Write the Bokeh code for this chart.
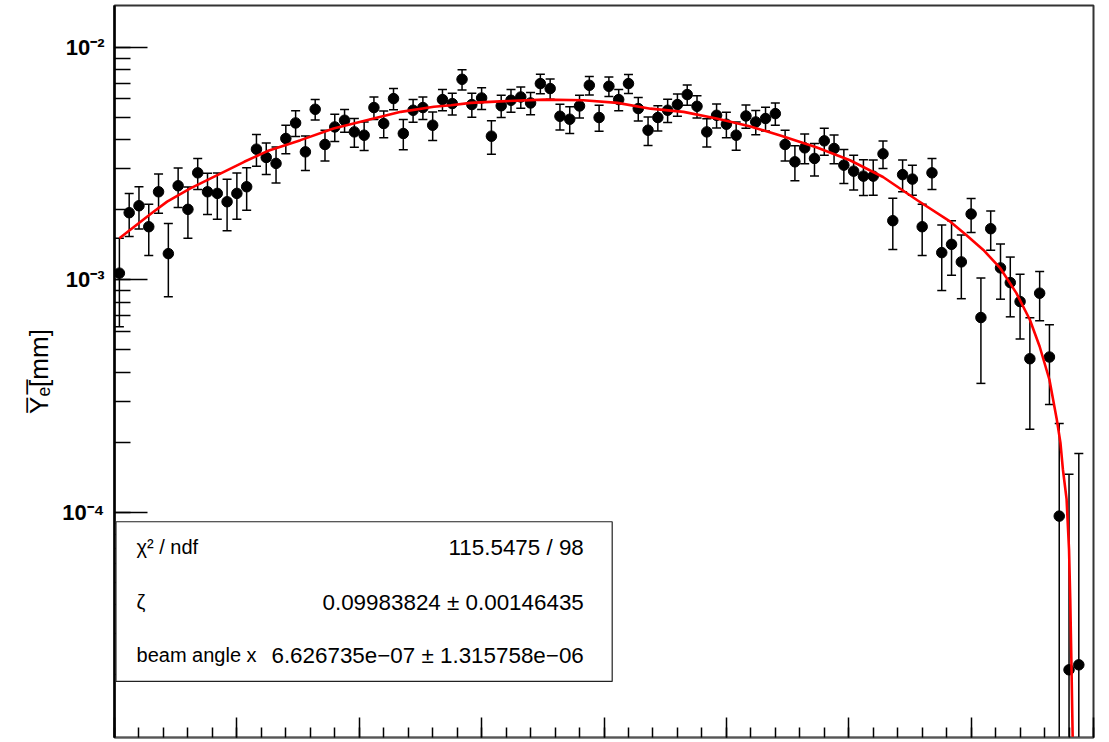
import numpy as np
from bokeh.plotting import figure
from bokeh.models import (Range1d, LogTicker, SingleIntervalTicker, CustomJSTickFormatter,
                          ColumnDataSource, CustomLabelingPolicy)
from bokeh.core.properties import value
from bokeh.embed import file_html
from bokeh.resources import INLINE

# bin centres (x, arbitrary units; axis 0..8 without labels)
bin_x = [0.04, 0.12, 0.20, 0.28, 0.36, 0.44, 0.52, 0.60, 0.68, 0.76,
         0.84, 0.92, 1.00, 1.08, 1.16, 1.24, 1.32, 1.40, 1.48, 1.56,
         1.64, 1.72, 1.80, 1.88, 1.96, 2.04, 2.12, 2.20, 2.28, 2.36,
         2.44, 2.52, 2.60, 2.68, 2.76, 2.84, 2.92, 3.00, 3.08, 3.16,
         3.24, 3.32, 3.40, 3.48, 3.56, 3.64, 3.72, 3.80, 3.88, 3.96,
         4.04, 4.12, 4.20, 4.28, 4.36, 4.44, 4.52, 4.60, 4.68, 4.76,
         4.84, 4.92, 5.00, 5.08, 5.16, 5.24, 5.32, 5.40, 5.48, 5.56,
         5.64, 5.72, 5.80, 5.88, 5.96, 6.04, 6.12, 6.20, 6.28, 6.36,
         6.44, 6.52, 6.60, 6.68, 6.76, 6.84, 6.92, 7.00, 7.08, 7.16,
         7.24, 7.32, 7.40, 7.48, 7.56, 7.64, 7.72, 7.80, 7.88]

# measured mean Y_e (units of 1e-3 mm)
y_val_e3 = [1.069, 1.945, 2.084, 1.693, 2.393, 1.297, 2.540, 2.011, 2.887, 2.393,
            2.355, 2.168, 2.355, 2.515, 3.649, 3.362, 3.170, 4.057, 4.732, 3.553,
            5.418, 3.824, 4.548, 4.859, 4.330, 4.191, 5.510, 4.705, 6.022, 4.262,
            5.365, 5.510, 4.626, 5.963, 5.733, 7.290, 5.676, 6.058, 4.150, 5.609,
            5.922, 6.118, 5.767, 6.986, 6.649, 5.055, 4.909, 5.598, 6.870, 4.993,
            6.802, 5.963, 6.986, 5.456, 4.403, 4.993, 5.365, 5.676, 6.266, 5.580,
            4.330, 5.104, 4.672, 4.191, 5.069, 4.778, 4.943, 5.190, 3.824, 3.220,
            3.697, 3.329, 3.962, 3.675, 3.115, 2.935, 2.794, 2.794, 3.484, 1.797,
            2.836, 2.713, 1.693, 2.887, 1.310, 1.422, 1.195, 1.920, 0.6888, 1.660,
            1.126, 0.9736, 0.8069, 0.4581, 0.8767, 0.4659, 0.0964, 0.02104, 0.02211]

# statistical errors (units of 1e-3 mm)
y_err_e3 = [0.44, 0.41, 0.43, 0.42, 0.46, 0.45, 0.49, 0.50, 0.44, 0.48,
            0.53, 0.54, 0.53, 0.52, 0.57, 0.52, 0.56, 0.57, 0.60, 0.60,
            0.55, 0.58, 0.61, 0.54, 0.61, 0.59, 0.61, 0.62, 0.63, 0.63,
            0.60, 0.61, 0.65, 0.62, 0.62, 0.73, 0.67, 0.65, 0.68, 0.62,
            0.66, 0.64, 0.63, 0.67, 0.66, 0.64, 0.65, 0.63, 0.63, 0.64,
            0.66, 0.62, 0.66, 0.63, 0.62, 0.62, 0.61, 0.62, 0.63, 0.61,
            0.60, 0.60, 0.59, 0.58, 0.58, 0.57, 0.58, 0.57, 0.58, 0.55,
            0.54, 0.53, 0.53, 0.52, 0.52, 0.50, 0.49, 0.48, 0.47, 0.445,
            0.44, 0.40, 0.42, 0.44, 0.41, 0.375, 0.365, 0.32, 0.33, 0.32,
            0.30, 0.28, 0.25, 0.23, 0.21, 0.175, 0.145, 0.125, 0.157]

# fitted function
fit_x = [0.04, 0.30, 0.43, 0.62, 0.84, 1.06, 1.25, 1.52, 1.79, 2.06,
         2.34, 2.61, 2.75, 2.91, 3.15, 3.51, 3.83, 4.11, 4.38, 4.65,
         4.92, 5.19, 5.46, 5.74, 6.01, 6.28, 6.56, 6.83, 6.96, 7.10,
         7.24, 7.37, 7.48, 7.56, 7.64, 7.70, 7.73, 7.75, 7.78, 7.80,
         7.81, 7.82, 7.83]
fit_y = [1.51e-3, 1.93e-3, 2.17e-3, 2.475e-3, 2.82e-3, 3.22e-3, 3.58e-3, 3.99e-3, 4.48e-3, 4.86e-3,
         5.28e-3, 5.55e-3, 5.64e-3, 5.77e-3, 5.86e-3, 5.96e-3, 5.92e-3, 5.77e-3, 5.45e-3, 5.28e-3,
         4.94e-3, 4.58e-3, 4.15e-3, 3.71e-3, 3.27e-3, 2.77e-3, 2.20e-3, 1.78e-3, 1.56e-3, 1.345e-3,
         1.12e-3, 8.77e-4, 6.74e-4, 5.17e-4, 3.72e-4, 2.51e-4, 1.99e-4, 1.53e-4, 1.14e-4, 6.94e-5,
         4.23e-5, 2.19e-5, 1.06e-5]

stat_labels = ["\u03c7\u00b2 / ndf", "\u03b6", "beam angle x"]
stat_values = ["115.5475 / 98", "0.09983824 \u00b1 0.00146435", "6.626735e\u221207 \u00b1 1.315758e\u221206"]

y_axis_title = "Y\u0305\u2091\u0305[mm]"

# ---------------------------------------------------------------
y = np.array(y_val_e3) * 1e-3
err = np.array(y_err_e3) * 1e-3
upper = y + err
lower = np.where(y - err > 0, y - err, 1e-7)

src = ColumnDataSource(dict(x=bin_x, y=y, up=upper, lo=lower))

FONT = "Liberation Sans"

p = figure(width=1095, height=741,
           x_range=Range1d(0, 8), y_range=Range1d(1.0764e-5, 0.015137),
           y_axis_type="log", output_backend="svg", toolbar_location=None,
           min_border_left=114, min_border_right=2, min_border_top=5, min_border_bottom=1)

p.background_fill_color = "white"
p.border_fill_color = "white"
p.xgrid.visible = False
p.ygrid.visible = False
p.outline_line_color = "#333333"
p.outline_line_width = 2

# x axis: ticks only (its labels lie outside the picture in the original)
xa = p.xaxis[0]
xa.ticker = SingleIntervalTicker(interval=1, num_minor_ticks=5)
xa.major_label_policy = CustomLabelingPolicy(code="""
const all = Array.from(indices);
for (const i of all) { indices.unset(i); }
return indices;
""")
xa.major_label_text_font_size = "1px"
xa.major_label_standoff = 0
xa.major_tick_in = 20
xa.major_tick_out = 0
xa.minor_tick_in = 10
xa.minor_tick_out = 0
xa.axis_line_color = "#555555"
xa.axis_line_width = 1.5
xa.major_tick_line_width = 1.5
xa.minor_tick_line_width = 1.5
xa.major_tick_line_color = "black"
xa.minor_tick_line_color = "black"

ya = p.yaxis[0]
ya.ticker = LogTicker(mantissas=[1], desired_num_ticks=4, num_minor_ticks=10)
ya.formatter = CustomJSTickFormatter(code="""
const e = Math.round(Math.log10(tick));
const sup = {"-": "\u207b", "0": "\u2070", "1": "\u00b9", "2": "\u00b2", "3": "\u00b3",
             "4": "\u2074", "5": "\u2075", "6": "\u2076", "7": "\u2077", "8": "\u2078", "9": "\u2079"};
let s = "";
for (const c of String(e)) { s += sup[c]; }
return "10" + s;
""")
ya.major_tick_in = 33
ya.major_tick_out = 0
ya.minor_tick_in = 16
ya.minor_tick_out = 0
ya.major_tick_line_width = 1.5
ya.minor_tick_line_width = 1.5
ya.major_tick_line_color = "black"
ya.minor_tick_line_color = "black"
ya.axis_line_width = 2.5
ya.axis_line_color = "black"
ya.major_label_text_font = FONT
ya.major_label_text_font_style = "bold"
ya.major_label_text_font_size = "22px"
ya.major_label_text_color = "black"
ya.major_label_standoff = 10
ya.axis_label = y_axis_title
ya.axis_label_text_font = FONT
ya.axis_label_text_font_style = "normal"
ya.axis_label_text_font_size = "26px"
ya.axis_label_text_color = "black"
ya.axis_label_standoff = 5

# error bars
p.segment(x0="x", y0="lo", x1="x", y1="up", source=src, line_color="black", line_width=1.5)
p.scatter(x="x", y="up", source=src, marker="dash", size=9, line_color="black", line_width=1.5)
p.scatter(x="x", y="lo", source=src, marker="dash", size=9, line_color="black", line_width=1.5)
# markers
p.scatter(x="x", y="y", source=src, marker="circle", size=10.5, fill_color="black", line_color="black")

# fit curve
p.line(fit_x, fit_y, line_color="#ff0000", line_width=2.6)

# statistics box, drawn above the axis ticks as in the original
box = p.quad(left=[0.012], right=[4.067], top=[9.115e-5], bottom=[1.875e-5],
             fill_color="white", line_color="#222222", line_width=1.2)
box.level = "overlay"
row_y = [7.08e-5, 4.11e-5, 2.43e-5]
t1 = p.text(x=[0.18] * 3, y=row_y, text=stat_labels, text_align="left", text_baseline="middle",
            text_font=value(FONT), text_font_size=value("20px"), text_color="black")
t2 = p.text(x=[3.835] * 3, y=row_y, text=stat_values, text_align="right", text_baseline="middle",
            text_font=value(FONT), text_font_size=value("22.4px"), text_color="black")
t1.level = "overlay"
t2.level = "overlay"

open("out.html", "w").write(file_html(p, INLINE))
